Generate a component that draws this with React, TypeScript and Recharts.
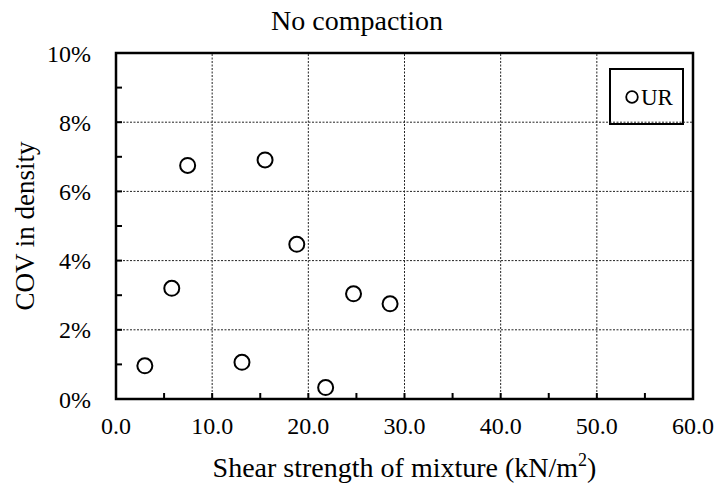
import React from 'react';
import {
  ScatterChart,
  Scatter,
  XAxis,
  YAxis,
  ReferenceLine,
  ReferenceArea,
  Label,
  Customized,
} from 'recharts';

// Shear strength of the mixture (kN/m2) and coefficient of variation in density (%)
const shearStrength = [3.0, 5.8, 7.45, 13.1, 15.5, 18.8, 21.8, 24.7, 28.5];
const covDensity = [0.96, 3.2, 6.75, 1.06, 6.91, 4.47, 0.33, 3.04, 2.75];

const seriesName = 'UR';
const chartTitle = 'No compaction';
const xTitle = 'Shear strength of mixture (kN/m';
const yTitle = 'COV in density';

const xTicks = [0, 5, 10, 15, 20, 25, 30, 35, 40, 45, 50, 55, 60];
const xGrid = [10, 20, 30, 40, 50];
const yTicks = [0, 1, 2, 3, 4, 5, 6, 7, 8, 9, 10];
const yGrid = [2, 4, 6, 8];

const data = shearStrength.map((x, i) => ({ x, y: covDensity[i] }));

const FONT = '"Liberation Serif", "Times New Roman", serif';

const CircleMark = (props: any) => {
  const { cx, cy } = props;
  if (cx == null || cy == null) return null;
  return <circle cx={cx} cy={cy} r={7.5} fill="#fff" stroke="#000" strokeWidth={2} />;
};

// Boxed legend in the upper right corner of the plot
const LegendBox = () => (
  <g>
    <rect x={610} y={69} width={73} height={55} fill="#fff" stroke="#000" strokeWidth={2} />
    <circle cx={632} cy={97} r={5.8} fill="#fff" stroke="#000" strokeWidth={1.8} />
    <text x={641} y={105} fontFamily={FONT} fontSize={23} fill="#000">
      {seriesName}
    </text>
  </g>
);

const TitleText = () => (
  <text x={357} y={30} textAnchor="middle" fontFamily={FONT} fontSize={28} fill="#000">
    {chartTitle}
  </text>
);

const XTitle = (props: any) => {
  const vb = props.viewBox;
  return (
    <text
      x={vb.x + vb.width / 2}
      y={vb.y + 78}
      textAnchor="middle"
      fontFamily={FONT}
      fontSize={28}
      fill="#000"
    >
      {xTitle}
      <tspan fontSize={18} dy={-11}>2</tspan>
      <tspan dy={11}>)</tspan>
    </text>
  );
};

const YTitle = (props: any) => {
  const vb = props.viewBox;
  const cx = vb.x + 25;
  const cy = vb.y + vb.height / 2;
  return (
    <text
      x={cx}
      y={cy}
      dy="0.35em"
      transform={`rotate(-90, ${cx}, ${cy})`}
      textAnchor="middle"
      fontFamily={FONT}
      fontSize={27}
      fill="#000"
    >
      {yTitle}
    </text>
  );
};

const tickStyle = { fontFamily: FONT, fontSize: 24, fill: '#000' };

export default function App() {
  return (
    <div style={{ position: 'absolute', left: 0, top: 0, width: 717, height: 485, background: '#fff' }}>
      <ScatterChart
        width={717}
        height={485}
        margin={{ top: 53, right: 24, bottom: 0, left: 0 }}
        style={{ fontFamily: FONT }}
      >
        <XAxis
          type="number"
          dataKey="x"
          domain={[0, 60]}
          ticks={xTicks}
          interval={0}
          height={86}
          axisLine={false}
          tickSize={-6}
          tickMargin={24}
          tickLine={{ stroke: '#000', strokeWidth: 2 }}
          tick={tickStyle}
          tickFormatter={(v: number) => (v % 10 === 0 ? v.toFixed(1) : '')}
        >
          <Label content={<XTitle />} />
        </XAxis>
        <YAxis
          type="number"
          dataKey="y"
          domain={[0, 10]}
          ticks={yTicks}
          interval={0}
          width={116}
          axisLine={false}
          tickSize={-6}
          tickMargin={31}
          tickLine={{ stroke: '#000', strokeWidth: 2 }}
          tick={tickStyle}
          tickFormatter={(v: number) => (v % 2 === 0 ? `${v}%` : '')}
        >
          <Label content={<YTitle />} />
        </YAxis>
        {xGrid.map((v) => (
          <ReferenceLine key={`gx${v}`} x={v} stroke="#222" strokeWidth={1} strokeDasharray="2 1.5" />
        ))}
        {yGrid.map((v) => (
          <ReferenceLine key={`gy${v}`} y={v} stroke="#222" strokeWidth={1} strokeDasharray="2 1.5" />
        ))}
        <ReferenceArea x1={0} x2={60} y1={0} y2={10} fill="none" stroke="#000" strokeWidth={2.5} />
        <Scatter
          name={seriesName}
          data={data}
          shape={<CircleMark />}
          isAnimationActive={false}
        />
        <Customized component={<LegendBox />} />
        <Customized component={<TitleText />} />
      </ScatterChart>
    </div>
  );
}
